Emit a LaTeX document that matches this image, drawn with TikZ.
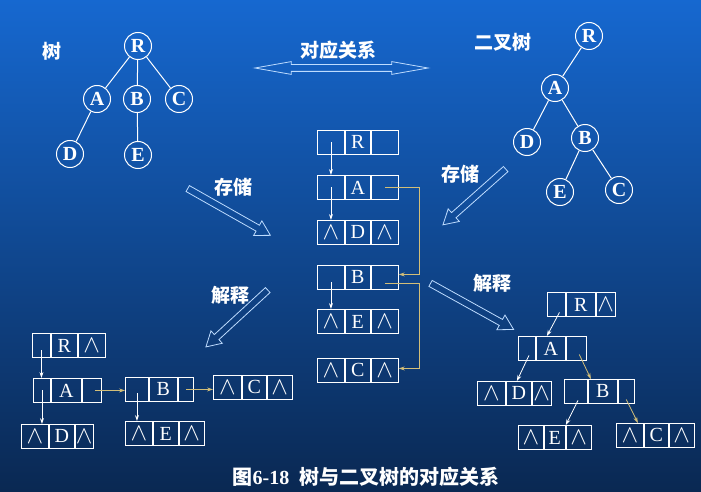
\documentclass[tikz,border=0pt]{standalone}
\usepackage{fontspec}
\setmainfont{Liberation Serif}
\newfontfamily\cjk{Noto Sans CJK SC}
\usetikzlibrary{shapes.arrows,arrows.meta}
\definecolor{bgtop}{RGB}{22,104,208}
\definecolor{bgmid}{RGB}{14,74,156}
\definecolor{bgbot}{RGB}{10,40,82}
\definecolor{lnktan}{RGB}{210,190,120}
\definecolor{hollowln}{RGB}{190,220,255}
\tikzstyle{vertex} = [circle, draw=white, line width=1pt, minimum size=27pt, inner sep=0pt, text=white, font=\fontsize{20}{20}\selectfont\bfseries]
\tikzstyle{cell} = [rectangle, draw=white, line width=0.9pt, minimum height=24pt, inner sep=0pt, anchor=north west, text=white, font=\fontsize{20}{20}\selectfont]
\tikzstyle{zhtext} = [text=white, font=\cjk\bfseries\fontsize{19}{19}\selectfont]
\tikzstyle{ptr} = [white, line width=0.8pt, -{Stealth[length=6pt,width=4pt]}]
\tikzstyle{tanptr} = [lnktan, line width=0.8pt, -{Stealth[length=6pt,width=4pt]}]
\tikzstyle{hollow} = [single arrow, draw=hollowln, line width=0.8pt, inner sep=3pt, minimum width=0pt, single arrow head extend=5pt, single arrow tip angle=60]
\newcommand{\nil}{{\fontsize{25}{25}\selectfont$\wedge$}}
\newcommand{\nilr}{{\nil\hspace{7pt}}}
\newcommand{\tribox}[9]{%
  \node[cell, minimum width=#4pt] (#1a) at (#2,#3) {#7};
  \node[cell, minimum width=#5pt] (#1b) at (#1a.north east) {#8};
  \node[cell, minimum width=#6pt] (#1c) at (#1b.north east) {#9};
}

\begin{document}
\begin{tikzpicture}[x=1pt, y=-1pt]
	\shade[top color=bgtop, middle color=bgmid, bottom color=bgbot] (0,0) rectangle (701,492);
	\useasboundingbox (0,0) rectangle (701,492);

	\node[zhtext] (shu) at (52,51) {树};
	\node[vertex] (tR) at (138,46) {R};
	\node[vertex] (tA) at (97,99) {A};
	\node[vertex] (tB) at (137,99) {B};
	\node[vertex] (tC) at (179,99) {C};
	\node[vertex] (tD) at (70,154) {D};
	\node[vertex] (tE) at (138,155) {E};
	\draw[white, line width=1pt] (tR) -- (tA) (tR) -- (tB) (tR) -- (tC) (tA) -- (tD) (tB) -- (tE);

	\node[zhtext] (erchashu) at (503,42) {二叉树};
	\node[vertex] (bR) at (589,36) {R};
	\node[vertex] (bA) at (555,88) {A};
	\node[vertex] (bD) at (527,142) {D};
	\node[vertex] (bB) at (585,138) {B};
	\node[vertex] (bE) at (560,192) {E};
	\node[vertex] (bC) at (619,190) {C};
	\draw[white, line width=1pt] (bR) -- (bA) (bA) -- (bD) (bA) -- (bB) (bB) -- (bE) (bB) -- (bC);

	\node[zhtext] (duiying) at (338,50) {对应关系};
	\node[double arrow, draw=hollowln, line width=0.8pt, inner sep=3pt, minimum width=0pt, double arrow head extend=3pt, double arrow tip angle=20, minimum height=173pt] (dbl) at (341.5,68) {};

	\node[zhtext] (cun1) at (233,187) {存储};
	\node[hollow, minimum height=95pt, rotate=-29.5] (h1) at (226.5,210.5) {};
	\node[zhtext] (jie1) at (230,295) {解释};
	\node[hollow, minimum height=84pt, rotate=-137.4] (h2) at (239,316.5) {};
	\node[zhtext] (cun2) at (460,174) {存储};
	\node[hollow, minimum height=84pt, rotate=-138.4] (h3) at (476.5,195) {};
	\node[zhtext] (jie2) at (492,283) {解释};
	\node[hollow, minimum height=95pt, rotate=-29] (h4) at (469.5,305) {};

	\tribox{cR}{317}{130}{27}{25}{27}{}{R}{}
	\tribox{cA}{317}{175}{27}{25}{27}{}{A}{}
	\tribox{cD}{317}{220}{27}{25}{27}{\nil}{D}{\nilr}
	\tribox{cB}{317}{265}{27}{25}{27}{}{B}{}
	\tribox{cE}{317}{309}{27}{25}{27}{\nil}{E}{\nilr}
	\tribox{cC}{317}{358}{27}{25}{27}{\nil}{C}{\nilr}
	\draw[ptr] (cRa.center) -- (cRa.center |- cAa.north);
	\draw[ptr] (cAa.center) -- (cAa.center |- cDa.north);
	\draw[ptr] ([yshift=-5pt]cBa.center) -- (cBa.center |- cEa.north);
	\draw[tanptr] (cAc.center) -| ([xshift=21pt,yshift=3pt]cBc.east) -- ([yshift=3pt]cBc.east);
	\draw[tanptr] ([yshift=-6pt]cBc.center) -| ([xshift=21pt,yshift=2pt]cCc.east) -- ([yshift=2pt]cCc.east);

	\tribox{lR}{32}{333}{18}{26}{27}{}{R}{\nilr}
	\tribox{lA}{33}{378}{17}{30}{19}{}{A}{}
	\tribox{lD}{21}{424}{27}{25}{18}{\nil}{D}{\nilr}
	\tribox{lB}{125}{377}{23}{28}{15}{}{B}{}
	\tribox{lE}{125}{421}{27}{25}{25}{\nil}{E}{\nilr}
	\tribox{lC}{213}{375}{28}{24}{25}{\nil}{C}{\nilr}
	\draw[ptr] ([yshift=-5pt]lRa.center) -- (lRa.center |- lAa.north);
	\draw[ptr] (lAa.center) -- (lAa.center |- lDa.north);
	\draw[ptr] ([yshift=-4pt]lBa.center) -- (lBa.center |- lEa.north);
	\draw[tanptr] ([xshift=3pt]lAc.center) -- (lAc.center -| lBa.west);
	\draw[tanptr] (lBc.center) -- (lBc.center -| lCa.west);

	\tribox{rR}{547}{292}{18}{29}{19}{}{R}{\nilr}
	\tribox{rA}{518}{336}{17}{29}{20}{}{A}{}
	\tribox{rD}{477}{381}{28}{25}{19}{\nil}{D}{\nilr}
	\tribox{rB}{564}{379}{23}{29}{16}{}{B}{}
	\tribox{rE}{518}{425}{25}{21}{25}{\nil}{E}{\nilr}
	\tribox{rC}{616}{423}{27}{24}{25}{\nil}{C}{\nilr}
	\draw[ptr] ([shift={(3pt,-8pt)}]rRa.center) -- ([xshift=11pt]rAb.north west);
	\draw[ptr] ([shift={(2pt,-7pt)}]rAa.center) -- ([xshift=11pt]rDb.north west);
	\draw[ptr] ([shift={(2pt,-9pt)}]rBa.center) -- (rEb.north east);
	\draw[tanptr] ([shift={(3pt,-6pt)}]rAc.center) -- ([xshift=3pt]rBb.north west);
	\draw[tanptr] ([yshift=-8pt]rBc.center) -- ([xshift=-6pt]rCa.north east);

	\node[zhtext, font=\cjk\bfseries\fontsize{20}{20}\selectfont] (caption) at (366,477) {图{\rmfamily\bfseries 6-18}\enspace 树与二叉树的对应关系};
\end{tikzpicture}
\end{document}
